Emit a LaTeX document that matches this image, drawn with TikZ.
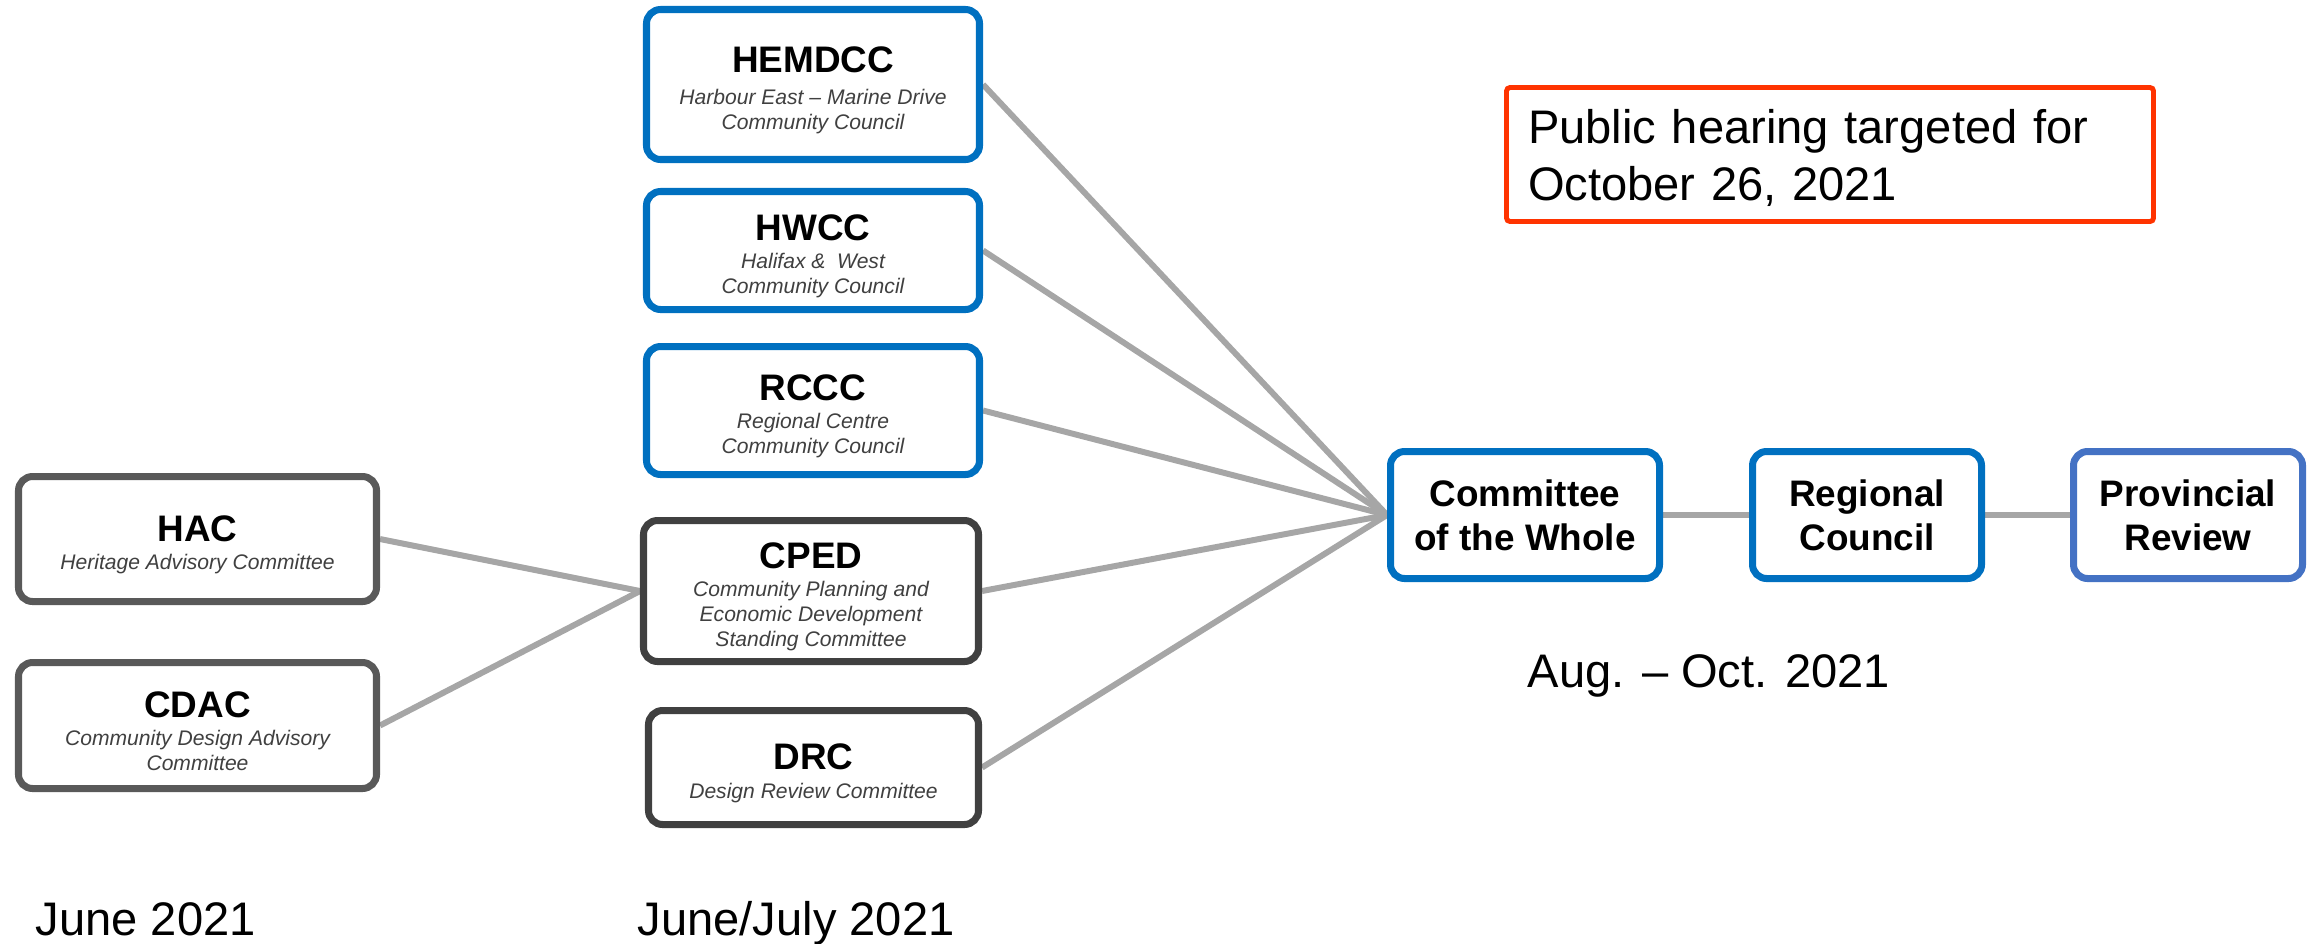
\documentclass[tikz,border=0pt]{standalone}
\usepackage{fontspec}
\setmainfont{Liberation Sans}
\usepackage{tikz}
\usetikzlibrary{backgrounds}
\definecolor{hrmblue}{HTML}{0070C0}
\definecolor{provblue}{HTML}{4472C4}
\definecolor{advgray}{HTML}{595959}
\definecolor{stdgray}{HTML}{404040}
\definecolor{subgray}{HTML}{404040}
\definecolor{linkgray}{HTML}{A6A6A6}
\definecolor{hearingred}{HTML}{FF3300}
\newcommand{\ttl}[1]{{\fontsize{10.5}{12.6}\selectfont\bfseries\upshape\color{black}\rule{0pt}{10.6pt}#1}}
\tikzset{
  board/.style={draw, line width=2pt, rounded corners=4pt, fill=white, align=center, inner sep=1pt, text=subgray, font=\fontsize{6}{7.1}\selectfont\itshape},
  council/.style={board, draw=hrmblue},
  advisory/.style={board, draw=advgray},
  standing/.style={board, draw=stdgray},
  stage/.style={draw, line width=2pt, rounded corners=4pt, fill=white, align=center, minimum height=1.27cm, font=\fontsize{10.5}{12.6}\selectfont\bfseries},
  linkline/.style={draw=linkgray, line width=1.7pt},
  datelabel/.style={anchor=base west, inner sep=0pt, font=\fontsize{13.4}{16}\selectfont},
}

\begin{document}
\begin{tikzpicture}
    \useasboundingbox (0,0) rectangle (23.18,-9.43);

    \node[advisory, minimum width=3.58cm, minimum height=1.25cm] (hac) at (1.975,-5.39) {\ttl{HAC}\\[1pt]Heritage Advisory Committee};
    \node[advisory, minimum width=3.58cm, minimum height=1.26cm] (cdac) at (1.975,-7.255) {\ttl{CDAC}\\[1pt]Community Design Advisory\\Committee};

    \node[council, minimum width=3.33cm, minimum height=1.50cm] (hemdcc) at (8.13,-0.845) {\ttl{HEMDCC}\\[1.8pt]Harbour East – Marine Drive\\Community Council};
    \node[council, minimum width=3.33cm, minimum height=1.18cm] (hwcc) at (8.13,-2.505) {\ttl{HWCC}\\[1pt]Halifax \& \ West\\Community Council};
    \node[council, minimum width=3.33cm, minimum height=1.28cm] (rccc) at (8.13,-4.105) {\ttl{RCCC}\\[1pt]Regional Centre\\Community Council};
    \node[standing, minimum width=3.35cm, minimum height=1.41cm] (cped) at (8.11,-5.91) {\ttl{CPED}\\[1pt]Community Planning and\\Economic Development\\Standing Committee};
    \node[standing, minimum width=3.30cm, minimum height=1.14cm] (drc) at (8.135,-7.675) {\ttl{DRC}\\[1pt]Design Review Committee};

    \node[stage, draw=hrmblue, minimum width=2.69cm] (cow) at (15.25,-5.15) {Committee\\of the Whole};
    \node[stage, draw=hrmblue, minimum width=2.29cm] (rc) at (18.67,-5.15) {Regional\\Council};
    \node[stage, draw=provblue, minimum width=2.29cm] (pr) at (21.88,-5.15) {Provincial\\Review};

    \node[draw=hearingred, line width=1.4pt, rounded corners=1pt, minimum width=6.47cm, minimum height=1.34cm, text width=6.04cm, inner xsep=0.2cm, align=left, font=\fontsize{13.4}{16.4}\selectfont] (hearing) at (18.30,-1.545) {\rule{0pt}{11.6pt}Public hearing targeted for\\October 26, 2021};

    \node[datelabel] (june) at (0.35,-9.35) {June 2021};
    \node[datelabel] (junejuly) at (6.37,-9.35) {June/July 2021};
    \node[datelabel] (augoct) at (15.27,-6.87) {Aug. – Oct. 2021};

    \begin{scope}[on background layer]
    \draw[linkline] (hac.east) -- (cped.west);
    \draw[linkline] (cdac.east) -- (cped.west);
    \draw[linkline] (hemdcc.east) -- (cow.west);
    \draw[linkline] (hwcc.east) -- (cow.west);
    \draw[linkline] (rccc.east) -- (cow.west);
    \draw[linkline] (cped.east) -- (cow.west);
    \draw[linkline] (drc.east) -- (cow.west);
    \draw[linkline] (cow.east) -- (rc.west);
    \draw[linkline] (rc.east) -- (pr.west);
    \end{scope}
\end{tikzpicture}
\end{document}
